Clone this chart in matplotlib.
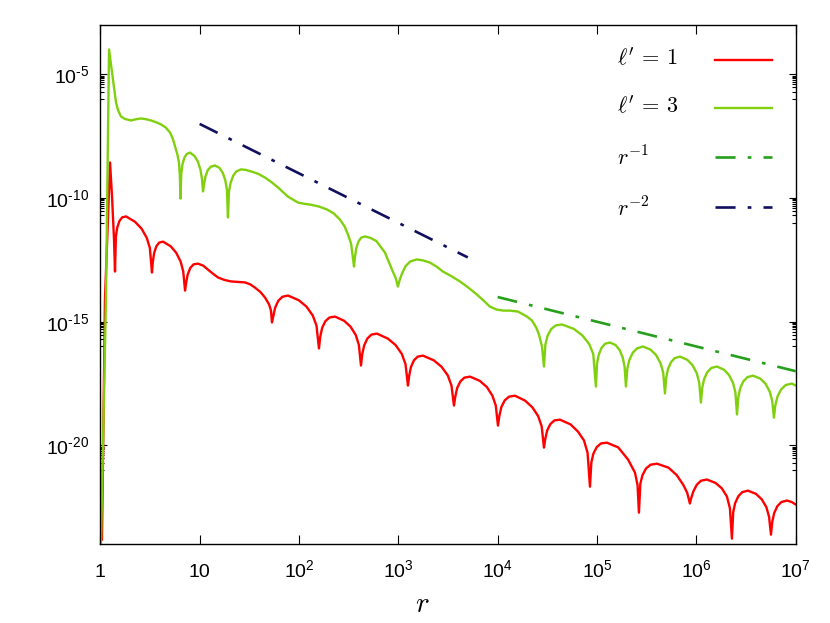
import numpy as np
import matplotlib
matplotlib.use('Agg')
import matplotlib.pyplot as plt
from matplotlib.lines import Line2D
from matplotlib.ticker import NullLocator, NullFormatter

plt.rcParams['font.family'] = ['Liberation Sans', 'DejaVu Sans']
plt.rcParams['mathtext.fontset'] = 'custom'
plt.rcParams['mathtext.rm'] = 'Liberation Sans'
plt.rcParams['mathtext.it'] = 'Liberation Sans:italic'
plt.rcParams['mathtext.bf'] = 'Liberation Sans:bold'

# ---------------- data: (log10 r, log10 amplitude) ----------------
curve_l1_log = [
    (0.017, -23.81), (0.047, -14.10), (0.098, -8.56), (0.118, -9.94), (0.138, -11.67),
    (0.148, -12.97),
    (0.157, -11.55), (0.170, -11.20), (0.192, -10.93), (0.220, -10.78), (0.259, -10.74),
    (0.350, -10.96), (0.416, -11.24), (0.468, -11.61), (0.499, -12.02),
    (0.520, -13.01),
    (0.529, -12.57), (0.542, -12.22), (0.564, -11.95), (0.592, -11.80), (0.631, -11.76),
    (0.709, -11.95), (0.764, -12.21), (0.809, -12.57), (0.835, -12.97),
    (0.853, -13.74),
    (0.863, -13.45), (0.879, -13.10), (0.905, -12.83), (0.938, -12.68), (0.983, -12.65),
    (1.035, -12.73), (1.084, -12.89), (1.135, -13.06), (1.185, -13.21), (1.250, -13.31),
    (1.316, -13.37), (1.390, -13.39), (1.457, -13.41), (1.510, -13.49), (1.557, -13.62),
    (1.610, -13.79), (1.658, -14.02), (1.699, -14.30), (1.718, -14.55),
    (1.728, -15.03),
    (1.741, -14.79), (1.760, -14.43), (1.792, -14.15), (1.833, -13.99), (1.889, -13.94),
    (1.998, -14.13), (2.076, -14.39), (2.139, -14.75), (2.176, -15.15),
    (2.201, -16.08),
    (2.214, -15.61), (2.233, -15.25), (2.265, -14.98), (2.306, -14.83), (2.362, -14.79),
    (2.454, -14.96), (2.519, -15.20), (2.572, -15.54), (2.603, -15.94),
    (2.624, -16.77),
    (2.637, -16.31), (2.656, -15.96), (2.688, -15.68), (2.729, -15.52), (2.785, -15.48),
    (2.894, -15.68), (2.972, -15.94), (3.035, -16.30), (3.072, -16.71),
    (3.097, -17.58),
    (3.109, -17.19), (3.127, -16.83), (3.157, -16.56), (3.195, -16.41), (3.248, -16.37),
    (3.357, -16.56), (3.435, -16.82), (3.498, -17.17), (3.535, -17.58),
    (3.560, -18.39),
    (3.573, -18.04), (3.592, -17.68), (3.625, -17.41), (3.665, -17.26), (3.722, -17.22),
    (3.820, -17.39), (3.891, -17.64), (3.947, -17.99), (3.981, -18.39),
    (4.003, -19.20),
    (4.017, -18.81), (4.037, -18.45), (4.071, -18.18), (4.114, -18.03), (4.174, -17.99),
    (4.276, -18.19), (4.349, -18.46), (4.408, -18.82), (4.443, -19.23),
    (4.466, -20.09),
    (4.479, -19.75), (4.498, -19.40), (4.530, -19.14), (4.571, -18.99), (4.627, -18.96),
    (4.733, -19.15), (4.808, -19.44), (4.869, -19.80), (4.905, -20.30),
    (4.929, -21.67),
    (4.943, -20.69), (4.963, -20.34), (4.997, -20.07), (5.040, -19.92), (5.100, -19.89),
    (5.213, -20.08), (5.312, -20.57), (5.382, -21.10), (5.408, -21.60),
    (5.422, -22.72),
    (5.436, -21.55), (5.458, -21.20), (5.494, -20.93), (5.540, -20.78), (5.603, -20.74),
    (5.719, -20.90), (5.802, -21.20), (5.869, -21.60), (5.908, -21.92),
    (5.935, -22.35),
    (5.947, -22.15), (5.969, -21.87), (6.003, -21.60), (6.046, -21.43), (6.106, -21.38),
    (6.194, -21.52), (6.257, -21.74), (6.308, -22.07), (6.338, -22.55),
    (6.358, -23.77),
    (6.371, -22.70), (6.390, -22.34), (6.422, -22.06), (6.462, -21.89), (6.519, -21.83),
    (6.600, -21.96), (6.658, -22.18), (6.705, -22.50), (6.732, -22.89),
    (6.751, -23.61),
    (6.764, -23.10), (6.783, -22.74), (6.815, -22.46), (6.856, -22.29), (6.912, -22.23),
    (6.960, -22.29), (7.000, -22.39),
]

curve_l3_log = [
    (0.007, -23.93), (0.057, -14.10), (0.088, -3.99), (0.128, -5.20), (0.158, -6.13),
    (0.179, -6.45), (0.208, -6.70), (0.249, -6.80), (0.309, -6.86), (0.360, -6.81),
    (0.410, -6.78), (0.460, -6.81), (0.510, -6.86), (0.560, -6.93), (0.611, -7.02),
    (0.660, -7.15), (0.702, -7.35), (0.730, -7.60), (0.752, -7.91), (0.775, -8.22),
    (0.792, -8.56), (0.801, -9.10),
    (0.807, -10.02),
    (0.815, -9.02), (0.826, -8.66), (0.845, -8.38), (0.869, -8.22), (0.903, -8.16),
    (0.949, -8.30), (0.982, -8.52), (1.008, -8.85), (1.024, -9.23),
    (1.034, -9.73),
    (1.044, -9.45), (1.058, -9.14), (1.082, -8.87), (1.113, -8.73), (1.155, -8.68),
    (1.200, -8.78), (1.233, -8.98), (1.259, -9.29), (1.275, -9.67),
    (1.285, -10.78),
    (1.295, -9.75), (1.311, -9.39), (1.337, -9.10), (1.370, -8.92), (1.416, -8.84),
    (1.465, -8.86), (1.517, -8.92), (1.590, -9.02), (1.658, -9.17), (1.725, -9.36),
    (1.789, -9.57), (1.889, -9.94), (1.990, -10.18), (2.050, -10.23), (2.111, -10.26),
    (2.200, -10.34), (2.282, -10.46), (2.350, -10.62), (2.413, -10.87), (2.460, -11.15),
    (2.493, -11.47), (2.525, -11.85),
    (2.554, -12.77),
    (2.563, -12.39), (2.576, -12.04), (2.598, -11.76), (2.626, -11.60), (2.664, -11.55),
    (2.720, -11.61), (2.780, -11.74), (2.865, -12.20), (2.936, -12.89), (2.975, -13.25),
    (2.996, -13.58),
    (3.012, -13.33), (3.037, -13.05), (3.073, -12.75), (3.121, -12.56), (3.188, -12.48),
    (3.250, -12.52), (3.319, -12.61), (3.385, -12.77), (3.449, -12.97), (3.535, -13.16),
    (3.620, -13.37), (3.705, -13.62), (3.791, -13.90), (3.860, -14.15), (3.922, -14.39),
    (3.992, -14.51), (4.060, -14.55), (4.123, -14.55), (4.205, -14.59), (4.295, -14.79),
    (4.345, -14.95), (4.390, -15.25), (4.416, -15.52), (4.446, -16.00),
    (4.466, -16.81),
    (4.480, -15.93), (4.502, -15.57), (4.538, -15.30), (4.584, -15.15), (4.647, -15.11),
    (4.767, -15.29), (4.852, -15.55), (4.921, -15.90), (4.962, -16.30),
    (4.989, -17.62),
    (5.000, -16.69), (5.017, -16.34), (5.045, -16.06), (5.081, -15.89), (5.130, -15.84),
    (5.186, -15.94), (5.227, -16.14), (5.259, -16.45), (5.278, -16.83),
    (5.291, -17.62),
    (5.305, -16.91), (5.325, -16.55), (5.359, -16.26), (5.402, -16.08), (5.462, -16.00),
    (5.540, -16.13), (5.595, -16.35), (5.640, -16.68), (5.666, -17.06),
    (5.684, -17.90),
    (5.696, -17.28), (5.714, -16.92), (5.744, -16.64), (5.782, -16.47), (5.835, -16.41),
    (5.909, -16.54), (5.962, -16.76), (6.004, -17.08), (6.029, -17.47),
    (6.046, -18.27),
    (6.059, -17.68), (6.078, -17.32), (6.110, -17.04), (6.151, -16.87), (6.207, -16.81),
    (6.278, -16.94), (6.328, -17.15), (6.369, -17.47), (6.393, -17.86),
    (6.409, -18.75),
    (6.422, -18.06), (6.441, -17.69), (6.473, -17.41), (6.514, -17.24), (6.570, -17.18),
    (6.644, -17.30), (6.697, -17.51), (6.739, -17.83), (6.764, -18.21),
    (6.781, -18.88),
    (6.795, -18.38), (6.817, -18.02), (6.853, -17.74), (6.899, -17.56), (6.962, -17.50),
    (7.000, -17.58),
]

# power-law guide lines (end points)
r_inv1 = [1e4, 1e7]
amp_inv1 = [1e-14, 1e-17]
r_inv2 = [10.0, 5e3]
amp_inv2 = [1e-7, 4e-13]

x_ticks = [1, 10, 1e2, 1e3, 1e4, 1e5, 1e6, 1e7]
x_tick_labels = ['1', '10', r'$10^{2}$', r'$10^{3}$', r'$10^{4}$', r'$10^{5}$', r'$10^{6}$', r'$10^{7}$']
y_ticks = [1e-20, 1e-15, 1e-10, 1e-5]
y_tick_labels = [r'$10^{\text{-}20}$', r'$10^{\text{-}15}$', r'$10^{\text{-}10}$', r'$10^{\text{-}5}$']

labels = [r"$\ell' \,=\, 1$", r"$\ell' \,=\, 3$", r'$r^{-1}$', r'$r^{-2}$']

# ---------------- figure ----------------
fig = plt.figure(figsize=(8.3, 6.23), dpi=100)
ax = fig.add_axes([0.12084, 0.12632, 0.83783, 0.83355])

c_red = '#ff0000'
c_lg = '#80d010'
c_dg = '#26a01c'
c_nv = '#10105e'
dashdot = (0, (7.6, 4.6, 1.4, 4.6))

l1 = np.array(curve_l1_log).T
l3 = np.array(curve_l3_log).T
ax.plot(10 ** l1[0], 10 ** l1[1], color=c_red, lw=1.7)
ax.plot(10 ** l3[0], 10 ** l3[1], color=c_lg, lw=1.7)
ax.plot(r_inv1, amp_inv1, color=c_dg, lw=1.9, ls=dashdot)
ax.plot(r_inv2, amp_inv2, color=c_nv, lw=1.9, ls=dashdot)

ax.set_xscale('log')
ax.set_yscale('log')
ax.set_xlim(1, 1e7)
ax.set_ylim(1e-24, 1e-3)

ax.set_xticks(x_ticks, x_tick_labels)
ax.xaxis.set_minor_locator(NullLocator())
ax.set_yticks(y_ticks, y_tick_labels)
y_minor = [k * 10.0 ** (m - 1) for m in (-20, -15, -10, -5) for k in range(1, 10)]
ax.set_yticks(y_minor, minor=True)
ax.yaxis.set_minor_formatter(NullFormatter())

ax.tick_params(which='both', direction='in', top=True, right=True, width=0.8,
               labelsize=14, colors='black')
ax.tick_params(axis='x', which='major', length=6.5, pad=23.5)
ax.tick_params(axis='y', which='major', length=5, pad=8)
ax.tick_params(axis='y', which='minor', length=3)
for lab in ax.get_xticklabels():
    lab.set_verticalalignment('baseline')
for s in ax.spines.values():
    s.set_linewidth(1.0)

ax.set_xlabel(r'$r$', fontsize=21, math_fontfamily='cm')
ax.xaxis.label.set_verticalalignment('center')
ax.xaxis.set_label_coords(0.4633, -0.115)

# ---------------- key (text left, sample right) ----------------
key_text_x = 0.743
key_line_x = [0.884, 0.9666]
key_text_y = [0.9220, 0.8296, 0.7294, 0.6322]
key_line_y = [0.9326, 0.8402, 0.7458, 0.6495]
key_styles = [dict(color=c_red, lw=1.7, ls='-'), dict(color=c_lg, lw=1.7, ls='-'),
              dict(color=c_dg, lw=1.9, ls=dashdot), dict(color=c_nv, lw=1.9, ls=dashdot)]
for lab, ty, ly, st in zip(labels, key_text_y, key_line_y, key_styles):
    ax.text(key_text_x, ty, lab, transform=ax.transAxes, fontsize=16,
            math_fontfamily='cm', va='baseline', ha='left')
    ax.add_line(Line2D(key_line_x, [ly, ly], transform=ax.transAxes, **st))

fig.savefig('out.png', dpi=100)
